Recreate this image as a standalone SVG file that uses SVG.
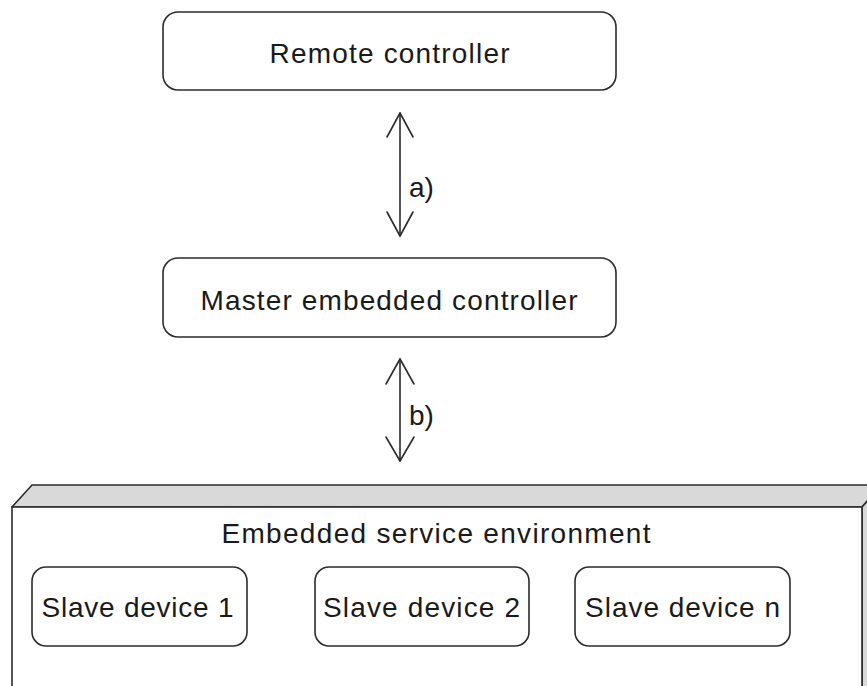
<svg xmlns="http://www.w3.org/2000/svg" width="867" height="686" viewBox="0 0 867 686">
<style>
.box{fill:#ffffff;stroke:#2b2b2b;stroke-width:1.6}
.face{fill:#d9d9d9;stroke:#2b2b2b;stroke-width:1.6;stroke-linejoin:round}
.lbl{font-family:"Liberation Sans",Arial,sans-serif;font-size:28px;fill:#1a1a1a}
.mid{text-anchor:middle}
.ln{fill:none;stroke:#2b2b2b;stroke-width:1.6;stroke-linecap:round;stroke-linejoin:round}
</style>
<rect width="867" height="686" fill="#ffffff"/>
<g id="env">
<polygon class="face" points="12,507 32,485 882,485 862,507"/>
<polygon class="face" points="862,507 882,485 882,700 862,700"/>
<rect class="box" x="12" y="507" width="850" height="200"/>
<text class="lbl mid" x="436" y="543" textLength="429" lengthAdjust="spacing">Embedded service environment</text>
</g>
<g id="remote">
<rect class="box" x="163" y="12" width="453" height="78" rx="15" ry="15"/>
<text class="lbl mid" x="389.5" y="63" textLength="240" lengthAdjust="spacing">Remote controller</text>
</g>
<g id="master">
<rect class="box" x="163" y="258" width="453" height="79" rx="15" ry="15"/>
<text class="lbl mid" x="389" y="310" textLength="377" lengthAdjust="spacing">Master embedded controller</text>
</g>
<g id="slave1">
<rect class="box" x="32" y="567" width="215" height="79" rx="14" ry="14"/>
<text class="lbl mid" x="137.5" y="617" textLength="192" lengthAdjust="spacing">Slave device 1</text>
</g>
<g id="slave2">
<rect class="box" x="315" y="567" width="214" height="79" rx="14" ry="14"/>
<text class="lbl mid" x="421.5" y="617" textLength="197" lengthAdjust="spacing">Slave device 2</text>
</g>
<g id="slaven">
<rect class="box" x="575" y="567" width="215" height="79" rx="14" ry="14"/>
<text class="lbl mid" x="682.5" y="617" textLength="195" lengthAdjust="spacing">Slave device n</text>
</g>
<g id="connectors">
<line class="ln" x1="400" y1="113" x2="400" y2="236"/>
<polyline class="ln" points="387,137 400,113 413,137"/>
<polyline class="ln" points="387,212 400,236 413,212"/>
<text class="lbl" x="409" y="197">a)</text>
<line class="ln" x1="400" y1="359" x2="400" y2="461"/>
<polyline class="ln" points="386,384 400,359 414,384"/>
<polyline class="ln" points="386,437 400,461 414,437"/>
<text class="lbl" x="409" y="425">b)</text>
</g>
</svg>
